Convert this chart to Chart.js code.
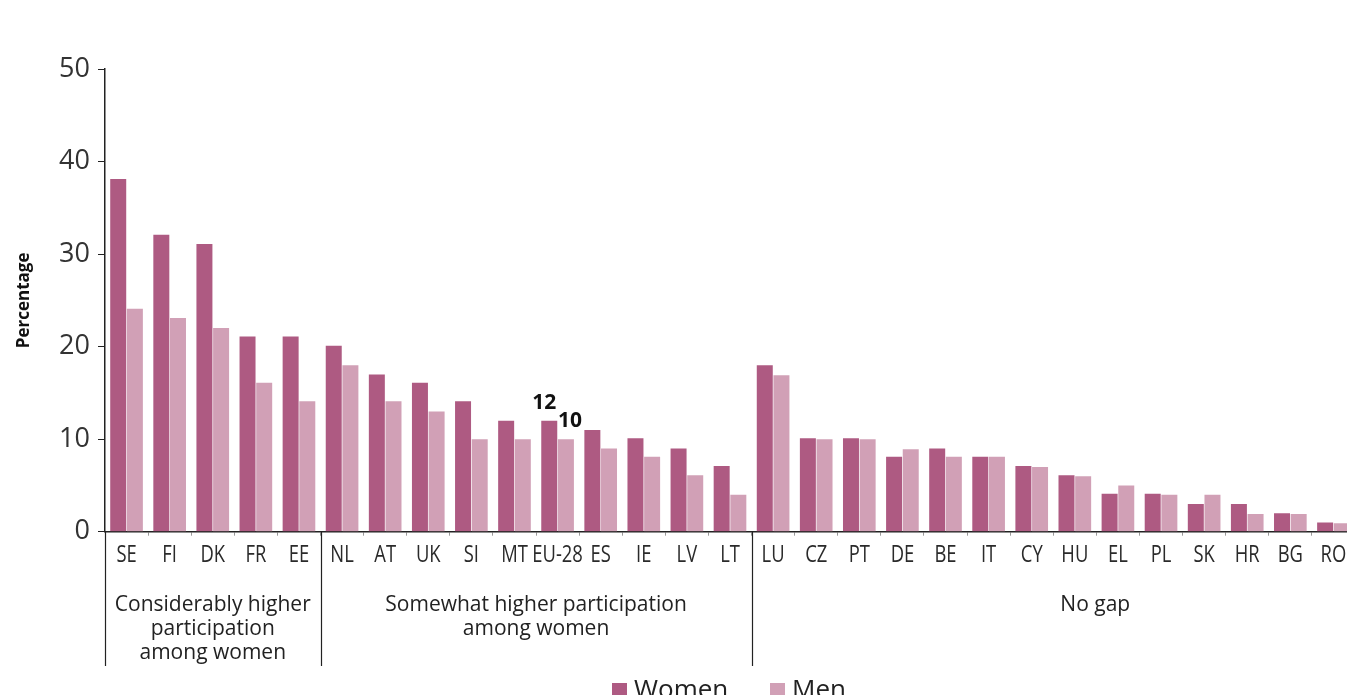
<!DOCTYPE html>
<html><head><meta charset="utf-8">
<script src="https://cdn.jsdelivr.net/npm/chart.js@4/dist/chart.umd.min.js"></script>
<style>
html,body{margin:0;padding:0;overflow:hidden;background:#fff}
#wrap{position:relative;width:1356px;height:695px}
</style>
</head><body><div id="wrap"><canvas id="c"></canvas></div>
<script>
const categories = ['SE','FI','DK','FR','EE','NL','AT','UK','SI','MT','EU-28','ES','IE','LV','LT','LU','CZ','PT','DE','BE','IT','CY','HU','EL','PL','SK','HR','BG','RO'];
const women = [38.1,32.1,31.1,21.1,21.1,20.1,17,16.1,14.1,12,12,11,10.1,9,7.1,18,10.1,10.1,8.1,9,8.1,7.1,6.1,4.1,4.1,3,3,2,1];
const men   = [24.1,23.1,22,16.1,14.1,18,14.1,13,10,10,10,9,8.1,6.1,4,16.9,10,10,8.9,8.1,8.1,7,6,5,4,4,1.9,1.9,0.9];
const seriesNames = ['Women','Men'];
const seriesColors = ['#ae5a82','#d1a0b6'];
const groupNames = [['Considerably higher','participation','among women'],['Somewhat higher participation','among women'],['No gap']];
const groupSizes = [5,10,14];
const yTickValues = [0,10,20,30,40,50];
const labelledCategory = 'EU-28';

const groupDx = [0,0,42];
const labelDx = [-5,4];

const annot = {
  id:'annot',
  afterDraw(chart){
    const ctx = chart.ctx, xs = chart.scales.x, area = chart.chartArea;
    const half = (xs.getPixelForValue(1) - xs.getPixelForValue(0)) / 2;
    const bounds = [0]; let acc = 0;
    groupSizes.forEach(s => { acc += s; bounds.push(acc); });
    ctx.save();
    // category labels (condensed)
    ctx.fillStyle = '#2a2a2a'; ctx.font = '23px "Open Sans"'; ctx.textAlign = 'center'; ctx.textBaseline = 'alphabetic';
    chart.data.labels.forEach((lab, k) => {
      const px = xs.getPixelForValue(k);
      ctx.save(); ctx.translate(px, 562); ctx.scale(0.8, 1); ctx.fillText(lab, 0, 0); ctx.restore();
    });
    ctx.strokeStyle = '#222'; ctx.lineWidth = 1.2;
    for (let g = 0; g < groupSizes.length; g++) {
      const px = Math.round(xs.getPixelForValue(bounds[g]) - half) + 0.5;
      ctx.beginPath(); ctx.moveTo(px, area.bottom); ctx.lineTo(px, 666); ctx.stroke();
    }
    ctx.fillStyle = '#222'; ctx.font = '21px "Open Sans"'; ctx.textAlign = 'center'; ctx.textBaseline = 'middle';
    groupNames.forEach((lines, g) => {
      const l = xs.getPixelForValue(bounds[g]) - half;
      const r = xs.getPixelForValue(bounds[g+1]-1) + half;
      const cx = (l + r) / 2 + groupDx[g];
      lines.forEach((t, i) => ctx.fillText(t, cx, 605 + i * 24));
    });
    // data labels
    const i = categories.indexOf(labelledCategory);
    ctx.font = 'bold 21px "Open Sans"'; ctx.fillStyle = '#111'; ctx.textBaseline = 'alphabetic';
    chart.data.datasets.forEach((ds, d) => {
      const bar = chart.getDatasetMeta(d).data[i];
      ctx.fillText(String(ds.data[i]), bar.x + labelDx[d], bar.y - 12);
    });
    // legend
    ctx.font = '26px "Open Sans"'; ctx.textAlign = 'left';
    const legX = [612, 770];
    chart.data.datasets.forEach((ds, d) => {
      ctx.fillStyle = ds.backgroundColor;
      ctx.fillRect(legX[d], 683, 15, 15);
      ctx.fillStyle = '#222';
      ctx.fillText(ds.label, legX[d] + 22, 698);
    });
    ctx.restore();
  }
};

new Chart(document.getElementById('c'), {
  type: 'bar',
  data: {
    labels: categories,
    datasets: [
      {label: seriesNames[0], data: women, backgroundColor: seriesColors[0], borderWidth: 0},
      {label: seriesNames[1], data: men, backgroundColor: seriesColors[1], borderWidth: 0}
    ]
  },
  options: {
    responsive: true, maintainAspectRatio: false, animation: false,
    layout: {padding: {top: 69, left: 0, right: 1, bottom: 0}},
    categoryPercentage: 0.773, barPercentage: 0.96,
    plugins: {legend: {display: false}, tooltip: {enabled: false}},
    scales: {
      x: {
        grid: {display: true, drawOnChartArea: false, drawTicks: true, tickLength: 4, color: '#999', offset: true},
        border: {display: true, color: '#222', width: 1.5},
        ticks: {display: false, autoSkip: false},
        afterFit(s){ s.height = 695 - 531.7; }
      },
      y: {
        min: 0, max: 50,
        afterBuildTicks(s){ s.ticks = yTickValues.map(v => ({value: v})); },
        grid: {display: true, drawOnChartArea: false, drawTicks: true, tickLength: 7, color: '#222'},
        border: {display: true, color: '#222', width: 1.5},
        ticks: {font: {family: '"Open Sans"', size: 27}, color: '#333', padding: 8},
        title: {display: true, text: 'Percentage', font: {family: '"Open Sans"', size: 17, weight: 'bold'}, color: '#111', padding: {top: 14, bottom: 0}},
        afterFit(s){ s.width = 105; }
      }
    }
  },
  plugins: [annot]
});
</script>
</body></html>
